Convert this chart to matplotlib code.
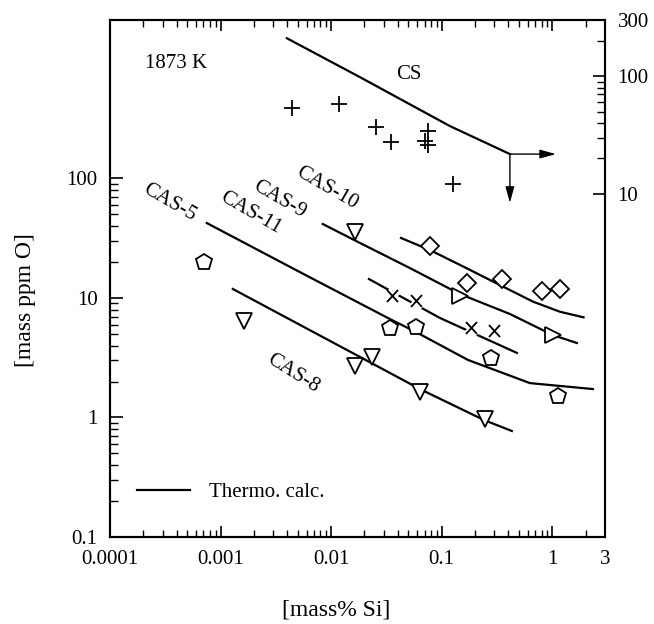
import matplotlib
matplotlib.use('Agg')
from matplotlib import pyplot as plt
from matplotlib.ticker import FixedLocator, FixedFormatter, LogLocator, NullFormatter
import matplotlib.patheffects as pe

plt.rcParams['font.family'] = ['Liberation Serif', 'DejaVu Serif']
plt.rcParams['font.size'] = 15

# thermodynamic calculation curves, mass% Si vs mass ppm O
cas5_line_x = [7.5e-4, 5.2e-3, 0.034, 0.0585, 0.173, 0.628, 2.33]
cas5_line_y = [42.4, 16.5, 6.67, 5.19, 3.03, 1.94, 1.73]
cas11_line_x = [0.022, 0.0963, 0.479]
cas11_line_y = [14.4, 6.81, 3.47]
cas9_line_x = [8.4e-3, 0.0182, 0.0516, 0.146, 0.414, 1.01, 1.67]
cas9_line_y = [41.6, 28.9, 17.8, 10.8, 7.35, 4.9, 4.2]
cas10_line_x = [0.0428, 0.0782, 0.169, 0.35, 0.672, 1.17, 1.92]
cas10_line_y = [31.8, 25.2, 17.7, 12.6, 9.31, 7.68, 6.89]
cas8_line_x = [1.29e-3, 0.034, 0.0635, 0.241, 0.431]
cas8_line_y = [11.9, 2.36, 1.73, 0.953, 0.771]

# measured points
cas5_x = [7.1e-4, 0.034, 0.0585, 0.279, 1.12]
cas5_y = [20.0, 5.61, 5.72, 3.15, 1.51]
cas11_x = [0.0362, 0.0597, 0.1875, 0.303]
cas11_y = [10.4, 9.44, 5.61, 5.3]
cas9_x = [0.0164, 0.146, 1.01]
cas9_y = [35.7, 10.4, 4.9]
cas10_x = [0.0782, 0.169, 0.35, 0.806, 1.17]
cas10_y = [27.2, 13.4, 14.4, 11.5, 11.9]
cas8_x = [1.63e-3, 0.0164, 0.0234, 0.0635, 0.246]
cas8_y = [6.42, 2.7, 3.21, 1.63, 0.971]

# CS slag (right axis)
cs_line_x = [3.98e-3, 0.0182, 0.1186, 0.414]
cs_line_y = [210, 98.2, 37.7, 21.8]
cs_x = [0.00443, 0.0118, 0.0254, 0.0348, 0.075, 0.0703, 0.075, 0.126]
cs_y = [53.6, 57.9, 37.0, 27.6, 34.2, 28.1, 26.0, 12.2]
cs_arrow_x = 1.08
cs_arrow_y = 8.4

x_ticks = [1e-4, 1e-3, 1e-2, 0.1, 1, 3]
x_ticklabels = ['0.0001', '0.001', '0.01', '0.1', '1', '3']
y_ticks = [0.1, 1, 10, 100]
y_ticklabels = ['0.1', '1', '10', '100']
y2_ticks = [10, 100, 300]
y2_ticklabels = ['10', '100', '300']

fig = plt.figure(figsize=(6.54, 6.24), dpi=100)
ax = fig.add_axes([110 / 654, 1 - 537 / 624, 495 / 654, 517 / 624])
ax.set_xscale('log')
ax.set_yscale('log')
ax.set_xlim(1e-4, 3)
ax.set_ylim(0.1, 2120)

lw = 1.6
ax.plot(cas5_line_x, cas5_line_y, color='k', lw=lw, label='Thermo. calc.', zorder=2)
ax.plot(cas11_line_x, cas11_line_y, color='k', lw=lw, zorder=2)
ax.plot(cas9_line_x, cas9_line_y, color='k', lw=lw, zorder=2)
ax.plot(cas10_line_x, cas10_line_y, color='k', lw=lw, zorder=2)
ax.plot(cas8_line_x, cas8_line_y, color='k', lw=lw, zorder=2)

mk = dict(linestyle='none', mfc='white', mec='k', mew=1.3, zorder=3)
ax.plot(cas5_x, cas5_y, marker='p', ms=12, **mk)
ax.plot(cas10_x, cas10_y, marker='D', ms=9.5, **mk)
ax.plot(cas9_x[:1], cas9_y[:1], marker='v', ms=11, **mk)
ax.plot(cas9_x[1:], cas9_y[1:], marker='>', ms=11, **mk)
ax.plot(cas8_x, cas8_y, marker='v', ms=11, **mk)
ax.plot(cas11_x, cas11_y, marker='x', ms=8, linestyle='none', color='k', mew=1.3, zorder=3,
        path_effects=[pe.Stroke(linewidth=5, foreground='white'), pe.Normal()])

ax.xaxis.set_major_locator(FixedLocator(x_ticks))
ax.xaxis.set_major_formatter(FixedFormatter(x_ticklabels))
ax.xaxis.set_minor_locator(LogLocator(base=10, subs=range(2, 10), numticks=20))
ax.xaxis.set_minor_formatter(NullFormatter())
ax.yaxis.set_major_locator(FixedLocator(y_ticks))
ax.yaxis.set_major_formatter(FixedFormatter(y_ticklabels))
ax.yaxis.set_minor_locator(FixedLocator([k * 10.0 ** e for e in (-1, 0, 1) for k in range(2, 10)]))
ax.yaxis.set_minor_formatter(NullFormatter())
ax.tick_params(axis='x', which='both', direction='in', top=True, bottom=True, pad=9)
ax.tick_params(axis='x', which='major', length=8, width=1.2)
ax.tick_params(axis='x', which='minor', length=5, width=1.0)
ax.tick_params(axis='y', which='both', direction='in', left=True, right=False, pad=9)
ax.tick_params(axis='y', which='major', length=9, width=1.2)
ax.tick_params(axis='y', which='minor', length=5.5, width=1.0)

ax2 = ax.twinx()
ax2.set_yscale('log')
ax2.set_ylim(0.0122, 300)
ax2.plot(cs_line_x, cs_line_y, color='k', lw=lw, zorder=2)
ax2.plot(cs_x, cs_y, marker='+', ms=12, mew=1.3, linestyle='none', color='k', zorder=3)
arrow = dict(arrowstyle='-|>,head_length=0.8,head_width=0.22', color='k', lw=1.0,
             shrinkA=0, shrinkB=0, mutation_scale=12)
ax2.annotate('', xy=(cs_arrow_x, cs_line_y[-1]), xytext=(cs_line_x[-1], cs_line_y[-1]), arrowprops=arrow)
ax2.annotate('', xy=(cs_line_x[-1], cs_arrow_y), xytext=(cs_line_x[-1], cs_line_y[-1]), arrowprops=arrow)
ax2.yaxis.set_major_locator(FixedLocator(y2_ticks))
ax2.yaxis.set_major_formatter(FixedFormatter(y2_ticklabels))
ax2.yaxis.set_minor_locator(FixedLocator([20, 30, 40, 50, 60, 70, 80, 90, 200]))
ax2.yaxis.set_minor_formatter(NullFormatter())
ax2.tick_params(axis='y', which='both', direction='in', pad=9)
ax2.tick_params(axis='y', which='major', length=9, width=1.2)
ax2.tick_params(axis='y', which='minor', length=5.5, width=1.0)

for a in (ax, ax2):
    for s in a.spines.values():
        s.set_linewidth(1.5)

ax.text(0.134, 0.915, '1873 K', transform=ax.transAxes, ha='center', va='center')
ax.text(0.604, 0.894, 'CS', transform=ax.transAxes, ha='center', va='center')
ax.text(0.121, 0.646, 'CAS-5', transform=ax.transAxes, ha='center', va='center', rotation=-30)
ax.text(0.283, 0.627, 'CAS-11', transform=ax.transAxes, ha='center', va='center', rotation=-30)
ax.text(0.343, 0.652, 'CAS-9', transform=ax.transAxes, ha='center', va='center', rotation=-30)
ax.text(0.438, 0.675, 'CAS-10', transform=ax.transAxes, ha='center', va='center', rotation=-30)
ax.text(0.370, 0.317, 'CAS-8', transform=ax.transAxes, ha='center', va='center', rotation=-32)

ax.legend(loc='center left', bbox_to_anchor=(0.0545, 0.087), frameon=False,
          borderpad=0, borderaxespad=0, handlelength=2.55, handletextpad=0.9)

fig.text(336 / 654, 1 - 610 / 624, '[mass% Si]', ha='center', va='center', fontsize=17)
fig.text(25 / 654, 1 - 300 / 624, '[mass ppm O]', ha='center', va='center', rotation=90, fontsize=17)

plt.savefig('out.png', dpi=100)
